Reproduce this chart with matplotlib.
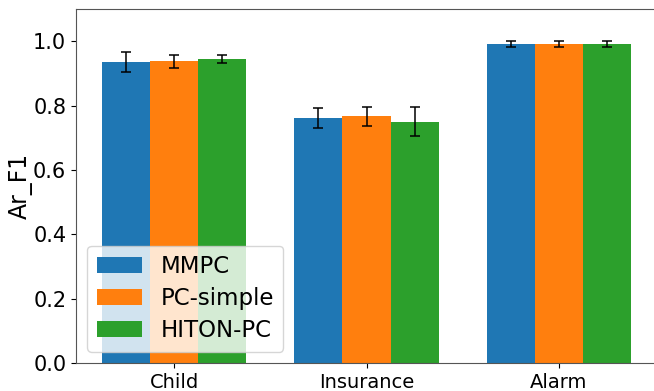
import numpy as np
import matplotlib
matplotlib.use("Agg")
import matplotlib.pyplot as plt

datasets = ["Child", "Insurance", "Alarm"]
algoritmos = ["MMPC", "PC-simple", "HITON-PC"]
colores = ["#1f77b4", "#ff7f0e", "#2ca02c"]

mmpc = [0.935, 0.761, 0.991]
mmpc_err = [0.030, 0.032, 0.010]
pcsimple = [0.938, 0.767, 0.992]
pcsimple_err = [0.020, 0.030, 0.010]
hiton = [0.944, 0.749, 0.991]
hiton_err = [0.012, 0.045, 0.009]

valores = [mmpc, pcsimple, hiton]
errores = [mmpc_err, pcsimple_err, hiton_err]

fig = plt.figure(figsize=(6.54, 3.91), dpi=100)
ax = fig.add_axes([76 / 654, 28 / 391, 581 / 654, 354 / 391])

x = np.arange(len(datasets))
ancho = 0.25
for i in range(3):
    ax.bar(x + (i - 1) * ancho, valores[i], ancho, yerr=errores[i], color=colores[i],
           label=algoritmos[i], capsize=3.5, error_kw={"elinewidth": 1.1, "capthick": 1.1})

ax.set_xlim(-0.5125, 2.5125)
ax.set_ylim(0, 1.1)
ax.set_xticks(x)
ax.set_xticklabels(datasets, fontsize=14)
ax.set_yticks([0.0, 0.2, 0.4, 0.6, 0.8, 1.0])
ax.tick_params(axis="y", labelsize=15)
ax.set_ylabel("Ar_F1", fontsize=17, labelpad=0)
for s in ax.spines.values():
    s.set_color("#555555")
ax.legend(loc="lower left", fontsize=16.5, handlelength=2.0, labelspacing=0.4)

fig.savefig("out.png", dpi=100)
